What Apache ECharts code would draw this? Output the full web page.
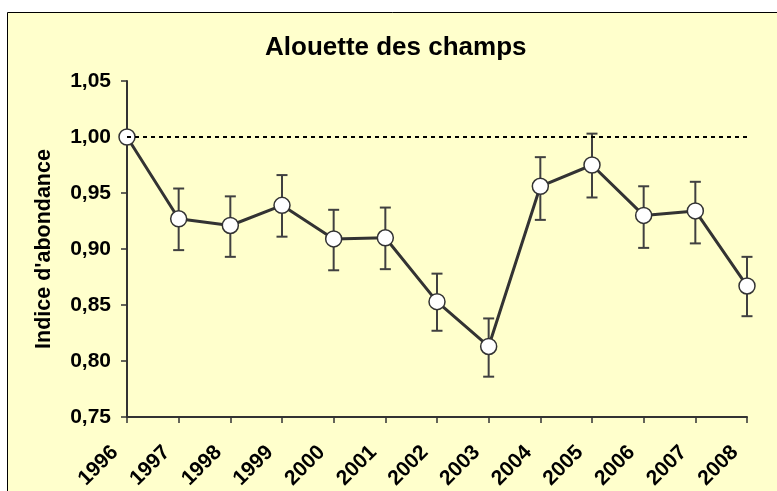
<!DOCTYPE html>
<html>
<head>
<meta charset="utf-8">
<title>Alouette des champs</title>
<script src="https://cdn.jsdelivr.net/npm/echarts@6/dist/echarts.min.js"></script>
<style>
  html, body { margin: 0; padding: 0; background: #fff; }
  #chart { width: 777px; height: 491px; }
</style>
</head>
<body>
<div id="chart"></div>
<script>
// Data
const years = ['1996', '1997', '1998', '1999', '2000', '2001', '2002', '2003', '2004', '2005', '2006', '2007', '2008']
const abundance = [1.000, 0.927, 0.921, 0.939, 0.909, 0.910, 0.853, 0.813, 0.956, 0.975, 0.930, 0.934, 0.867]
const errLow = [null, 0.899, 0.893, 0.911, 0.881, 0.882, 0.827, 0.786, 0.926, 0.946, 0.901, 0.905, 0.840]
const errHigh = [null, 0.954, 0.947, 0.966, 0.935, 0.937, 0.878, 0.838, 0.982, 1.003, 0.956, 0.960, 0.893]
const referenceLevel = 1.0

const FONT = 'Liberation Sans, Arial, sans-serif'
const DARK = '#333333'

const errorData = years
  .map((y, i) => [i, errLow[i], errHigh[i]])
  .filter(d => d[1] !== null)

const chart = echarts.init(document.getElementById('chart'))

chart.setOption({
  backgroundColor: '#ffffff',
  animation: false,
  graphic: [
    {
      type: 'rect',
      z: -10,
      silent: true,
      shape: { x: 7.5, y: 12.5, width: 800, height: 500 },
      style: { fill: '#FFFFCC', stroke: '#000000', lineWidth: 1 },
    },
  ],
  title: {
    text: 'Alouette des champs',
    left: 265,
    top: 35,
    padding: 0,
    textStyle: { fontFamily: FONT, fontSize: 26, fontWeight: 'bold', color: '#000' },
  },
  grid: {
    left: 127,
    right: 30,
    top: 81,
    bottom: 74,
    outerBoundsMode: 'none',
  },
  xAxis: {
    type: 'category',
    data: years,
    boundaryGap: false,
    axisLine: { lineStyle: { color: DARK, width: 2 } },
    axisTick: { length: 6, lineStyle: { color: DARK, width: 1.5 } },
    axisLabel: {
      rotate: 45,
      margin: 20,
      padding: [0, 17, 0, 0],
      color: '#000',
      fontFamily: FONT,
      fontSize: 21,
      fontWeight: 'bold',
    },
  },
  yAxis: {
    type: 'value',
    min: 0.75,
    max: 1.05,
    interval: 0.05,
    name: "Indice d'abondance",
    nameLocation: 'middle',
    nameRotate: 90,
    nameGap: 72,
    nameTextStyle: { fontFamily: FONT, fontSize: 21.5, fontWeight: 'bold', color: '#000' },
    splitLine: { show: false },
    axisLine: { show: true, lineStyle: { color: DARK, width: 2 } },
    axisTick: { show: true, length: 6, lineStyle: { color: DARK, width: 1.5 } },
    axisLabel: {
      margin: 16,
      color: '#000',
      fontFamily: FONT,
      fontSize: 21,
      fontWeight: 'bold',
      formatter: (val) => val.toFixed(2).replace('.', ','),
    },
  },
  series: [
    {
      type: 'custom',
      z: 2,
      data: errorData,
      renderItem: (params, api) => {
        const x = api.value(0)
        const top = api.coord([x, api.value(2)])
        const bottom = api.coord([x, api.value(1)])
        const hw = 5.5
        const style = { stroke: '#404040', lineWidth: 2 }
        return {
          type: 'group',
          children: [
            { type: 'line', shape: { x1: top[0], y1: top[1], x2: bottom[0], y2: bottom[1] }, style },
            { type: 'line', shape: { x1: top[0] - hw, y1: top[1], x2: top[0] + hw, y2: top[1] }, style },
            { type: 'line', shape: { x1: bottom[0] - hw, y1: bottom[1], x2: bottom[0] + hw, y2: bottom[1] }, style },
          ],
        }
      },
    },
    {
      type: 'line',
      z: 3,
      data: abundance,
      symbol: 'circle',
      symbolSize: 16,
      lineStyle: { color: DARK, width: 3 },
      itemStyle: { color: '#ffffff', borderColor: DARK, borderWidth: 1.5 },
      markLine: {
        silent: true,
        symbol: 'none',
        label: { show: false },
        lineStyle: { color: '#000', width: 2, type: [4, 4] },
        data: [{ yAxis: referenceLevel }],
      },
    },
  ],
})
</script>
</body>
</html>
